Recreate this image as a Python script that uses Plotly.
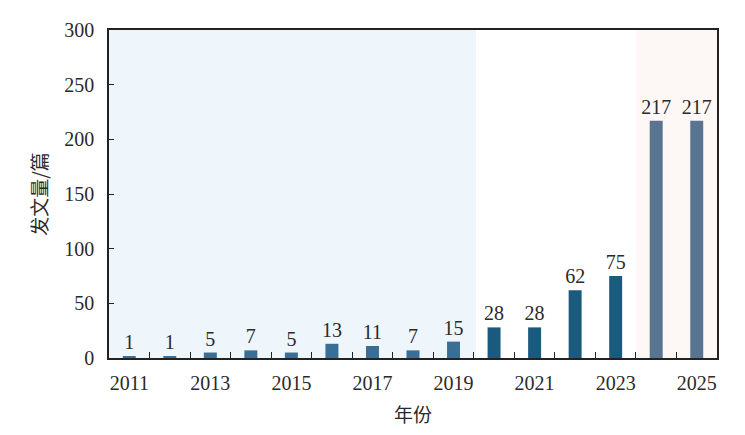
import plotly.graph_objects as go

years = list(range(2011, 2026))
counts = [1, 1, 5, 7, 5, 13, 11, 7, 15, 28, 28, 62, 75, 217, 217]
x_tick_labels = [2011, 2013, 2015, 2017, 2019, 2021, 2023, 2025]
y_ticks = [0, 50, 100, 150, 200, 250, 300]


def bar_color(y):
    if y <= 2019:
        return "#3a6e94"
    if y <= 2023:
        return "#1c5a7d"
    return "#587490"


serif = "Liberation Serif, Noto Serif CJK SC, Noto Sans CJK SC, serif"
text_color = "#2a2a2a"

fig = go.Figure()
fig.add_trace(go.Bar(
    x=years, y=counts, width=0.32,
    marker=dict(color=[bar_color(y) for y in years], line=dict(width=0)),
    text=[str(c) for c in counts], textposition="outside",
    textfont=dict(family=serif, size=20, color=text_color),
    cliponaxis=False, hoverinfo="skip",
))

fig.add_shape(type="rect", xref="x", yref="paper", x0=2010.5, x1=2019.55, y0=0, y1=1,
              fillcolor="#eef5fb", line_width=0, layer="below")
fig.add_shape(type="rect", xref="x", yref="paper", x0=2023.5, x1=2025.5, y0=0, y1=1,
              fillcolor="#fdf8f5", line_width=0, layer="below")

fig.update_layout(
    width=745, height=435,
    margin=dict(l=101, r=36, t=22, b=85),
    paper_bgcolor="white", plot_bgcolor="white",
    showlegend=False,
    uniformtext=dict(minsize=20, mode="show"),
    font=dict(family=serif, size=20, color=text_color),
    xaxis=dict(
        range=[2010.5, 2025.5], tickmode="array", tickvals=x_tick_labels,
        ticktext=[str(v) for v in x_tick_labels], ticks="", showgrid=False,
        zeroline=False, showline=True, linecolor="#222222", linewidth=1.6, mirror=True,
        tickfont=dict(family=serif, size=20, color=text_color), ticklabelstandoff=6,
        minor=dict(tickmode="array", tickvals=[y + 0.5 for y in years[:-1]],
                   ticks="inside", ticklen=6, tickcolor="#222222", tickwidth=1.3, showgrid=False),
        title=dict(text="年份", font=dict(family="Noto Sans CJK SC", size=19, color=text_color), standoff=16),
    ),
    yaxis=dict(
        range=[0, 300], tickmode="array", tickvals=y_ticks, ticks="inside", ticklen=5,
        tickcolor="#222222", tickwidth=1.3, showgrid=False, zeroline=False,
        showline=True, linecolor="#222222", linewidth=1.6, mirror=True,
        tickfont=dict(family=serif, size=20, color=text_color), ticklabelstandoff=9,
        title=dict(text="发文量/篇", font=dict(family="Noto Sans CJK SC", size=19, color=text_color), standoff=12),
    ),
)

fig.write_html("out.html")
